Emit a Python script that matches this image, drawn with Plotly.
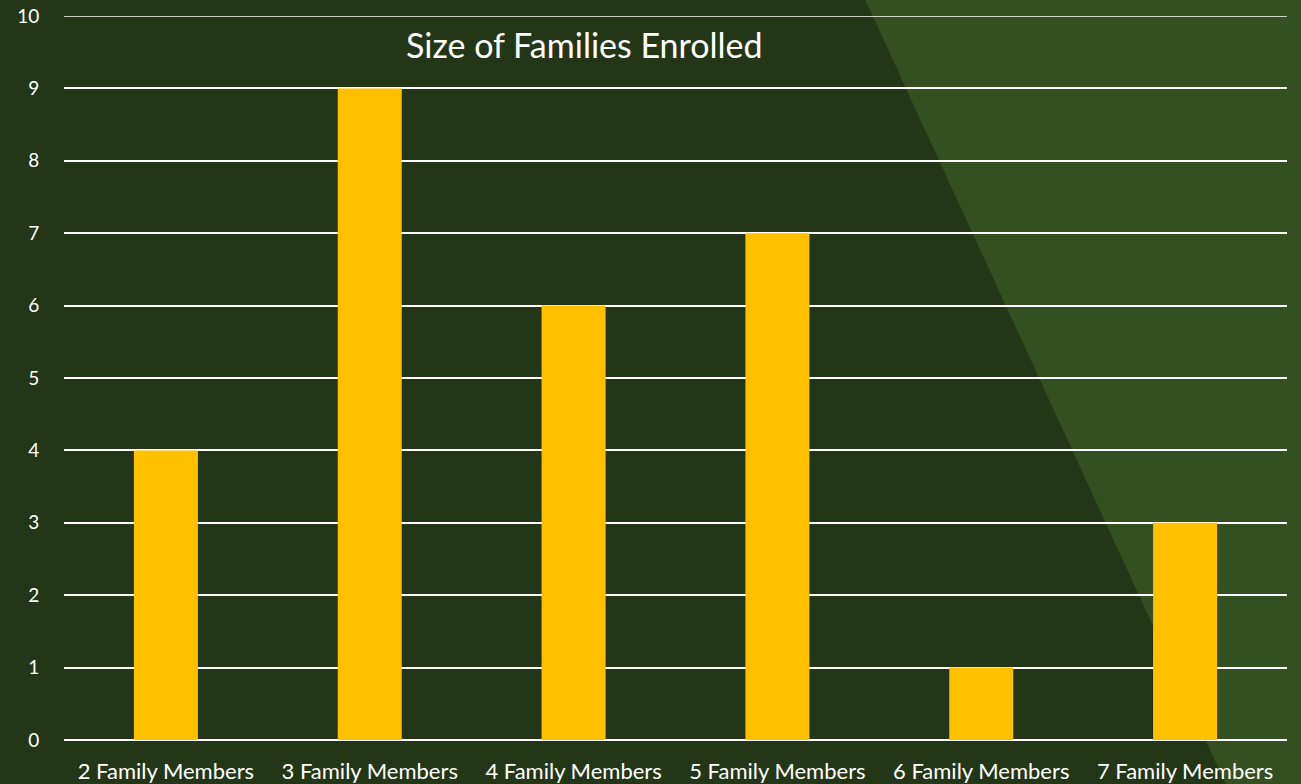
import plotly.graph_objects as go

categories = ["2 Family Members", "3 Family Members", "4 Family Members",
              "5 Family Members", "6 Family Members", "7 Family Members"]
values = [4, 9, 6, 7, 1, 3]
y_ticks = list(range(0, 11))
title_text = "Size of Families Enrolled"

W, H = 1301, 784
L, R, T, B = 64, 14, 16, 44
pw, ph = W - L - R, H - T - B

def px_x(x):
    return (x - L) / pw

def px_y(y):
    return (H - B - y) / ph

DARK = "#233618"
LIGHT = "#344F20"
FONT = "Lato, Open Sans, sans-serif"

fig = go.Figure(go.Bar(x=categories, y=values, marker=dict(color="#FFC000", line=dict(width=0)),
                       width=0.314))

tri_path = "M {} {} L {} {} L {} {} L {} {} Z".format(
    px_x(863), px_y(-5), px_x(W + 5), px_y(-5), px_x(W + 5), px_y(H + 5), px_x(1228), px_y(H + 5))

fig.update_layout(
    width=W, height=H,
    margin=dict(l=L, r=R, t=T, b=B, autoexpand=False),
    paper_bgcolor=DARK, plot_bgcolor="rgba(0,0,0,0)",
    showlegend=False,
    shapes=[dict(type="path", path=tri_path, xref="paper", yref="paper",
                 fillcolor=LIGHT, line=dict(width=0), layer="below"),
            dict(type="line", xref="paper", yref="y", x0=0, x1=1, y0=y_ticks[-1], y1=y_ticks[-1],
                 line=dict(color="white", width=1.5), layer="below")],
    annotations=[dict(text=title_text, x=px_x(584), y=px_y(44), xref="paper", yref="paper",
                      xanchor="center", yanchor="middle", showarrow=False,
                      font=dict(family=FONT, size=34, color="white"))],
    xaxis=dict(showgrid=False, zeroline=False, showline=False, automargin=False,
               ticks="outside", ticklen=12, tickcolor="rgba(0,0,0,0)",
               tickfont=dict(family=FONT, size=22, color="white")),
    yaxis=dict(range=[0, 10], tickvals=y_ticks, showgrid=True, gridcolor="white", gridwidth=1.5,
               zeroline=True, zerolinecolor="white", zerolinewidth=1.5, automargin=False,
               ticks="outside", ticklen=20, tickcolor="rgba(0,0,0,0)",
               tickfont=dict(family=FONT, size=19, color="white")),
)

fig.write_html("out.html")
